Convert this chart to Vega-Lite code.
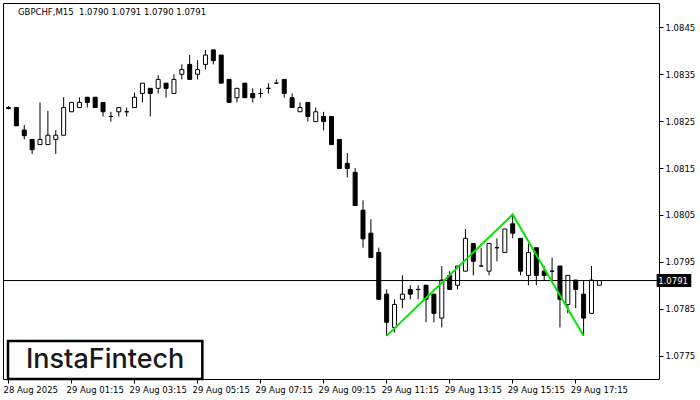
{
 "$schema": "https://vega.github.io/schema/vega-lite/v6.json",
 "width": 656,
 "height": 376,
 "autosize": "none",
 "padding": {"left": 3, "top": 3, "right": 41, "bottom": 21},
 "background": "white",
 "title": {"text": "GBPCHF,M15\u00a0 1.0790 1.0791 1.0790 1.0791", "anchor": "start", "frame": "group", "offset": -20, "dx": 15, "baseline": "alphabetic", "font": "DejaVu Sans", "fontSize": 8.5, "fontWeight": "normal", "color": "black"},
 "data": {"values": [
  {"t":"2025-08-28T23:15:00Z","o":1.08279,"h":1.08282,"l":1.08275,"c":1.08277},
  {"t":"2025-08-28T23:30:00Z","o":1.08279,"h":1.08279,"l":1.08240,"c":1.08240},
  {"t":"2025-08-28T23:45:00Z","o":1.08231,"h":1.08242,"l":1.08211,"c":1.08219},
  {"t":"2025-08-29T00:00:00Z","o":1.08211,"h":1.08211,"l":1.08180,"c":1.08189},
  {"t":"2025-08-29T00:15:00Z","o":1.08200,"h":1.08290,"l":1.08200,"c":1.08211},
  {"t":"2025-08-29T00:30:00Z","o":1.08200,"h":1.08272,"l":1.08200,"c":1.08220},
  {"t":"2025-08-29T00:45:00Z","o":1.08211,"h":1.08231,"l":1.08180,"c":1.08220},
  {"t":"2025-08-29T01:00:00Z","o":1.08220,"h":1.08301,"l":1.08220,"c":1.08279},
  {"t":"2025-08-29T01:15:00Z","o":1.08270,"h":1.08290,"l":1.08270,"c":1.08290},
  {"t":"2025-08-29T01:30:00Z","o":1.08279,"h":1.08301,"l":1.08279,"c":1.08290},
  {"t":"2025-08-29T01:45:00Z","o":1.08301,"h":1.08301,"l":1.08279,"c":1.08290},
  {"t":"2025-08-29T02:00:00Z","o":1.08301,"h":1.08301,"l":1.08279,"c":1.08279},
  {"t":"2025-08-29T02:15:00Z","o":1.08290,"h":1.08290,"l":1.08260,"c":1.08270},
  {"t":"2025-08-29T02:30:00Z","o":1.08260,"h":1.08270,"l":1.08249,"c":1.08260},
  {"t":"2025-08-29T02:45:00Z","o":1.08270,"h":1.08279,"l":1.08260,"c":1.08279},
  {"t":"2025-08-29T03:00:00Z","o":1.08270,"h":1.08279,"l":1.08260,"c":1.08270},
  {"t":"2025-08-29T03:15:00Z","o":1.08279,"h":1.08311,"l":1.08279,"c":1.08301},
  {"t":"2025-08-29T03:30:00Z","o":1.08309,"h":1.08331,"l":1.08290,"c":1.08331},
  {"t":"2025-08-29T03:45:00Z","o":1.08320,"h":1.08320,"l":1.08260,"c":1.08309},
  {"t":"2025-08-29T04:00:00Z","o":1.08320,"h":1.08348,"l":1.08309,"c":1.08339},
  {"t":"2025-08-29T04:15:00Z","o":1.08331,"h":1.08331,"l":1.08300,"c":1.08320},
  {"t":"2025-08-29T04:30:00Z","o":1.08309,"h":1.08350,"l":1.08309,"c":1.08339},
  {"t":"2025-08-29T04:45:00Z","o":1.08350,"h":1.08371,"l":1.08339,"c":1.08360},
  {"t":"2025-08-29T05:00:00Z","o":1.08371,"h":1.08391,"l":1.08339,"c":1.08339},
  {"t":"2025-08-29T05:15:00Z","o":1.08350,"h":1.08380,"l":1.08339,"c":1.08360},
  {"t":"2025-08-29T05:30:00Z","o":1.08371,"h":1.08402,"l":1.08360,"c":1.08391},
  {"t":"2025-08-29T05:45:00Z","o":1.08402,"h":1.08402,"l":1.08371,"c":1.08379},
  {"t":"2025-08-29T06:00:00Z","o":1.08391,"h":1.08391,"l":1.08331,"c":1.08331},
  {"t":"2025-08-29T06:15:00Z","o":1.08339,"h":1.08339,"l":1.08290,"c":1.08290},
  {"t":"2025-08-29T06:30:00Z","o":1.08300,"h":1.08320,"l":1.08290,"c":1.08320},
  {"t":"2025-08-29T06:45:00Z","o":1.08331,"h":1.08331,"l":1.08300,"c":1.08300},
  {"t":"2025-08-29T07:00:00Z","o":1.08309,"h":1.08320,"l":1.08290,"c":1.08300},
  {"t":"2025-08-29T07:15:00Z","o":1.08309,"h":1.08320,"l":1.08300,"c":1.08309},
  {"t":"2025-08-29T07:30:00Z","o":1.08320,"h":1.08331,"l":1.08309,"c":1.08320},
  {"t":"2025-08-29T07:45:00Z","o":1.08331,"h":1.08339,"l":1.08331,"c":1.08331},
  {"t":"2025-08-29T08:00:00Z","o":1.08339,"h":1.08339,"l":1.08300,"c":1.08309},
  {"t":"2025-08-29T08:15:00Z","o":1.08300,"h":1.08309,"l":1.08279,"c":1.08279},
  {"t":"2025-08-29T08:30:00Z","o":1.08270,"h":1.08290,"l":1.08270,"c":1.08279},
  {"t":"2025-08-29T08:45:00Z","o":1.08290,"h":1.08290,"l":1.08249,"c":1.08260},
  {"t":"2025-08-29T09:00:00Z","o":1.08249,"h":1.08279,"l":1.08249,"c":1.08270},
  {"t":"2025-08-29T09:15:00Z","o":1.08260,"h":1.08270,"l":1.08230,"c":1.08249},
  {"t":"2025-08-29T09:30:00Z","o":1.08260,"h":1.08260,"l":1.08200,"c":1.08200},
  {"t":"2025-08-29T09:45:00Z","o":1.08211,"h":1.08211,"l":1.08149,"c":1.08149},
  {"t":"2025-08-29T10:00:00Z","o":1.08160,"h":1.08182,"l":1.08130,"c":1.08149},
  {"t":"2025-08-29T10:15:00Z","o":1.08141,"h":1.08150,"l":1.08070,"c":1.08070},
  {"t":"2025-08-29T10:30:00Z","o":1.08060,"h":1.08081,"l":1.07980,"c":1.07999},
  {"t":"2025-08-29T10:45:00Z","o":1.08011,"h":1.08041,"l":1.07959,"c":1.07959},
  {"t":"2025-08-29T11:00:00Z","o":1.07970,"h":1.07980,"l":1.07870,"c":1.07870},
  {"t":"2025-08-29T11:15:00Z","o":1.07881,"h":1.07891,"l":1.07792,"c":1.07821},
  {"t":"2025-08-29T11:30:00Z","o":1.07810,"h":1.07870,"l":1.07799,"c":1.07859},
  {"t":"2025-08-29T11:45:00Z","o":1.07870,"h":1.07921,"l":1.07851,"c":1.07881},
  {"t":"2025-08-29T12:00:00Z","o":1.07891,"h":1.07900,"l":1.07870,"c":1.07881},
  {"t":"2025-08-29T12:15:00Z","o":1.07891,"h":1.07900,"l":1.07870,"c":1.07891},
  {"t":"2025-08-29T12:30:00Z","o":1.07900,"h":1.07900,"l":1.07821,"c":1.07870},
  {"t":"2025-08-29T12:45:00Z","o":1.07881,"h":1.07881,"l":1.07821,"c":1.07840},
  {"t":"2025-08-29T13:00:00Z","o":1.07830,"h":1.07941,"l":1.07810,"c":1.07911},
  {"t":"2025-08-29T13:15:00Z","o":1.07921,"h":1.07930,"l":1.07891,"c":1.07891},
  {"t":"2025-08-29T13:30:00Z","o":1.07900,"h":1.07941,"l":1.07891,"c":1.07941},
  {"t":"2025-08-29T13:45:00Z","o":1.07930,"h":1.08020,"l":1.07930,"c":1.08000},
  {"t":"2025-08-29T14:00:00Z","o":1.07989,"h":1.07989,"l":1.07921,"c":1.07951},
  {"t":"2025-08-29T14:15:00Z","o":1.07941,"h":1.07980,"l":1.07941,"c":1.07941},
  {"t":"2025-08-29T14:30:00Z","o":1.07930,"h":1.07989,"l":1.07921,"c":1.07989},
  {"t":"2025-08-29T14:45:00Z","o":1.07980,"h":1.08000,"l":1.07951,"c":1.07980},
  {"t":"2025-08-29T15:00:00Z","o":1.07970,"h":1.08020,"l":1.07970,"c":1.08020},
  {"t":"2025-08-29T15:15:00Z","o":1.08031,"h":1.08051,"l":1.08000,"c":1.08011},
  {"t":"2025-08-29T15:30:00Z","o":1.08000,"h":1.08000,"l":1.07921,"c":1.07930},
  {"t":"2025-08-29T15:45:00Z","o":1.07921,"h":1.07989,"l":1.07900,"c":1.07970},
  {"t":"2025-08-29T16:00:00Z","o":1.07980,"h":1.07980,"l":1.07900,"c":1.07921},
  {"t":"2025-08-29T16:15:00Z","o":1.07930,"h":1.07941,"l":1.07911,"c":1.07921},
  {"t":"2025-08-29T16:30:00Z","o":1.07930,"h":1.07959,"l":1.07911,"c":1.07930},
  {"t":"2025-08-29T16:45:00Z","o":1.07941,"h":1.07941,"l":1.07810,"c":1.07870},
  {"t":"2025-08-29T17:00:00Z","o":1.07859,"h":1.07921,"l":1.07840,"c":1.07921},
  {"t":"2025-08-29T17:15:00Z","o":1.07911,"h":1.07911,"l":1.07851,"c":1.07891},
  {"t":"2025-08-29T17:30:00Z","o":1.07881,"h":1.07911,"l":1.07792,"c":1.07830},
  {"t":"2025-08-29T17:45:00Z","o":1.07840,"h":1.07941,"l":1.07840,"c":1.07911},
  {"t":"2025-08-29T18:00:00Z","o":1.07900,"h":1.07910,"l":1.07900,"c":1.07910}
 ]},
 "layer": [
  {
   "mark": {"type": "rule", "color": "black", "strokeWidth": 1, "xOffset": 0.5, "clip": true},
   "encoding": {
    "x": {"field": "t", "type": "temporal",
     "scale": {"type": "utc", "domain": [{"year": 2025, "month": 8, "date": 28, "hours": 23, "minutes": 15, "utc": true}, {"year": 2025, "month": 8, "date": 29, "hours": 19, "minutes": 45, "utc": true}]},
     "axis": {"title": null, "orient": "bottom", "domain": false, "grid": false, "tickSize": 4, "tickColor": "black", "labelAlign": "left", "labelBaseline": "top", "labelPadding": 2, "labelOffset": -5, "labelFont": "DejaVu Sans", "labelFontSize": 8.5, "labelColor": "black", "labelOverlap": false, "labelFlush": false, "labelBound": false,
      "values": [
       {"year": 2025, "month": 8, "date": 28, "hours": 23, "minutes": 15, "utc": true},
       {"year": 2025, "month": 8, "date": 29, "hours": 1, "minutes": 15, "utc": true},
       {"year": 2025, "month": 8, "date": 29, "hours": 3, "minutes": 15, "utc": true},
       {"year": 2025, "month": 8, "date": 29, "hours": 5, "minutes": 15, "utc": true},
       {"year": 2025, "month": 8, "date": 29, "hours": 7, "minutes": 15, "utc": true},
       {"year": 2025, "month": 8, "date": 29, "hours": 9, "minutes": 15, "utc": true},
       {"year": 2025, "month": 8, "date": 29, "hours": 11, "minutes": 15, "utc": true},
       {"year": 2025, "month": 8, "date": 29, "hours": 13, "minutes": 15, "utc": true},
       {"year": 2025, "month": 8, "date": 29, "hours": 15, "minutes": 15, "utc": true},
       {"year": 2025, "month": 8, "date": 29, "hours": 17, "minutes": 15, "utc": true}
      ],
      "labelExpr": "utcFormat(datum.value, '%H:%M') == '23:15' ? '28 Aug 2025' : utcFormat(datum.value, '%d %b %H:%M')"}},
    "y": {"field": "l", "type": "quantitative",
     "scale": {"domain": [1.077, 1.08502], "zero": false, "nice": false},
     "axis": {"title": null, "orient": "right", "domain": false, "grid": false, "tickSize": 4, "tickColor": "black", "labelPadding": 2, "labelFont": "DejaVu Sans", "labelFontSize": 8.5, "labelColor": "black", "labelBaseline": "middle", "format": ".4f", "labelOverlap": false, "labelFlush": false,
      "values": [1.0775, 1.0785, 1.0795, 1.0805, 1.0815, 1.0825, 1.0835, 1.0845]}},
    "y2": {"field": "h"}
   }
  },
  {
   "mark": {"type": "bar", "width": 4, "stroke": "black", "strokeWidth": 1, "xOffset": 0.5, "clip": true},
   "encoding": {
    "x": {"field": "t", "type": "temporal"},
    "y": {"field": "o", "type": "quantitative"},
    "y2": {"field": "c"},
    "fill": {"condition": {"test": "datum.c >= datum.o", "value": "white"}, "value": "black"}
   }
  },
  {
   "data": {"values": [{"p": 1.0791}]},
   "mark": {"type": "rule", "color": "black", "strokeWidth": 1},
   "encoding": {"y": {"field": "p", "type": "quantitative"}}
  },
  {
   "data": {"values": [
    {"t": "2025-08-29T11:15:00Z", "p": 1.07792},
    {"t": "2025-08-29T15:15:00Z", "p": 1.08051},
    {"t": "2025-08-29T17:30:00Z", "p": 1.07792}
   ]},
   "mark": {"type": "line", "color": "#00e800", "strokeWidth": 2, "xOffset": 0.5, "clip": true},
   "encoding": {
    "x": {"field": "t", "type": "temporal"},
    "y": {"field": "p", "type": "quantitative"}
   }
  },
  {
   "data": {"values": [{}]},
   "mark": {"type": "rect", "fill": "white", "stroke": "black", "strokeWidth": 2.5},
   "encoding": {
    "x": {"datum": {"year": 2025, "month": 8, "date": 28, "hours": 23, "minutes": 15, "utc": true}, "type": "temporal"},
    "x2": {"datum": {"year": 2025, "month": 8, "date": 29, "hours": 5, "minutes": 25, "utc": true}},
    "y": {"datum": 1.077, "type": "quantitative"},
    "y2": {"datum": 1.07781}
   }
  },
  {
   "data": {"values": [{}]},
   "mark": {"type": "text", "text": "InstaFintech", "font": "Inter", "fontSize": 27, "fontWeight": 500, "color": "#1a1a1a", "align": "center", "baseline": "alphabetic"},
   "encoding": {
    "x": {"datum": {"year": 2025, "month": 8, "date": 29, "hours": 2, "minutes": 20, "utc": true}, "type": "temporal"},
    "y": {"datum": 1.07723, "type": "quantitative"}
   }
  },
  {
   "data": {"values": [{}]},
   "mark": {"type": "rect", "fill": "black", "clip": false},
   "encoding": {
    "x": {"datum": {"year": 2025, "month": 8, "date": 29, "hours": 19, "minutes": 50, "utc": true}, "type": "temporal"},
    "x2": {"datum": {"year": 2025, "month": 8, "date": 29, "hours": 20, "minutes": 56, "utc": true}},
    "y": {"datum": 1.07924, "type": "quantitative"},
    "y2": {"datum": 1.07896}
   }
  },
  {
   "data": {"values": [{}]},
   "mark": {"type": "text", "text": "1.0791", "font": "DejaVu Sans", "fontSize": 8.5, "color": "white", "align": "left", "baseline": "middle", "clip": false},
   "encoding": {
    "x": {"datum": {"year": 2025, "month": 8, "date": 29, "hours": 19, "minutes": 53, "utc": true}, "type": "temporal"},
    "y": {"datum": 1.0791, "type": "quantitative"}
   }
  }
 ],
 "config": {
  "view": {"stroke": "black", "strokeWidth": 1},
  "font": "DejaVu Sans"
 }
}
